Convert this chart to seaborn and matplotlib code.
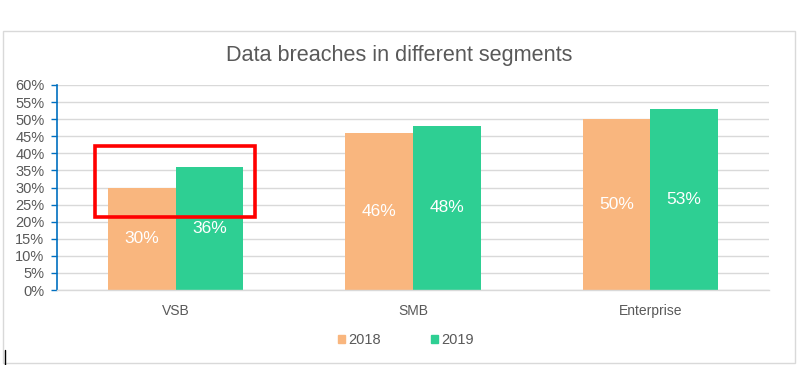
import matplotlib
matplotlib.use("Agg")
import matplotlib.pyplot as plt
import matplotlib.patches as mpatches
import matplotlib.lines as mlines
import seaborn as sns
import pandas as pd
from matplotlib.ticker import MultipleLocator, FuncFormatter

categories = ["VSB", "SMB", "Enterprise"]
years = ["2018", "2019"]
values_2018 = [30, 46, 50]
values_2019 = [36, 48, 53]
title = "Data breaches in different segments"

colors = {"2018": "#F9B67E", "2019": "#2ECF93"}
TEXT = "#595959"
GRID = "#D9D9D9"

df = pd.DataFrame({
    "segment": categories * 2,
    "year": [years[0]] * 3 + [years[1]] * 3,
    "value": values_2018 + values_2019,
})

sns.set_theme(style="white")
plt.rcParams["font.family"] = ["Liberation Sans", "DejaVu Sans"]

fig = plt.figure(figsize=(7.98, 3.65), dpi=100)
ax = fig.add_axes([57 / 798, 75 / 365, 712 / 798, 205 / 365])

sns.barplot(data=df, x="segment", y="value", hue="year", palette=colors,
            width=0.57, ax=ax, legend=False, saturation=1, linewidth=0)

ax.set_ylim(0, 60)
ax.set_xlim(-0.5, 2.5)
ax.yaxis.set_major_locator(MultipleLocator(5))
ax.yaxis.set_major_formatter(FuncFormatter(lambda v, p: f"{int(v)}%"))
ax.set_xlabel("")
ax.set_ylabel("")
ax.grid(axis="y", color=GRID, linewidth=1)
ax.set_axisbelow(True)
for s in ["top", "right"]:
    ax.spines[s].set_visible(False)
ax.spines["bottom"].set_color(GRID)
ax.spines["bottom"].set_linewidth(1)
ax.spines["left"].set_color("#0070C0")
ax.spines["left"].set_linewidth(1.2)
ax.tick_params(axis="y", colors="#0070C0", length=4, width=1, labelsize=10.5,
               labelcolor=TEXT, direction="out", left=True, pad=5)
ax.tick_params(axis="x", length=0, labelsize=10, labelcolor=TEXT, pad=10)

for container in ax.containers:
    ax.bar_label(container, labels=[f"{int(v)}%" for v in container.datavalues],
                 label_type="center", color="white", fontsize=12.5)

fig.text(0.5, 1 - 55 / 365, title, ha="center", va="center",
         fontsize=15.6, color=TEXT)

handles = [mpatches.Patch(color=colors[y], label=y) for y in years]
fig.legend(handles=handles, loc="center", bbox_to_anchor=(406 / 798, 1 - 340 / 365),
           ncol=2, frameon=False, fontsize=10.5, handlelength=0.5, handleheight=0.5,
           handletextpad=0.25, columnspacing=3.4, labelcolor=TEXT)

# Highlight rectangle around VSB bar tops
ax.add_patch(mpatches.Rectangle((-0.34, 21.4), 0.674, 20.7, fill=False,
                                edgecolor="#FF0000", linewidth=2.6, clip_on=False,
                                zorder=5))

# Chart border
fig.add_artist(mpatches.Rectangle((3 / 798, 2 / 365), 792 / 798, 332 / 365,
                                  transform=fig.transFigure, fill=False,
                                  edgecolor=GRID, linewidth=1))
fig.add_artist(mlines.Line2D([4.5 / 798, 4.5 / 798], [0, 15 / 365],
                             transform=fig.transFigure, color="black", linewidth=1))

fig.savefig("out.png", dpi=100)
